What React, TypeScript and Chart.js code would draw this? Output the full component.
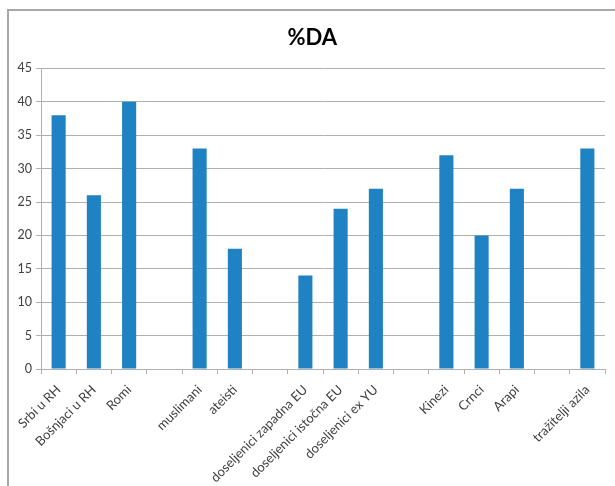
import React, { useEffect, useRef } from "react";
import { Chart, registerables } from "chart.js";

Chart.register(...registerables);

const categories: string[] = [
  "Srbi u RH",
  "Bošnjaci u RH",
  "Romi",
  "",
  "muslimani",
  "ateisti",
  "",
  "doseljenici zapadna EU",
  "doseljenici istočna EU",
  "doseljenici ex YU",
  "",
  "Kinezi",
  "Crnci",
  "Arapi",
  "",
  "tražitelji azila",
];

const daValues: (number | null)[] = [38, 26, 40, null, 33, 18, null, 14, 24, 27, null, 32, 20, 27, null, 33];

const yTicks: number[] = [0, 5, 10, 15, 20, 25, 30, 35, 40, 45];

const chartTitle = "%DA";

const FONT = "Lato, 'Open Sans', sans-serif";

export default function App() {
  const ref = useRef<HTMLCanvasElement | null>(null);

  useEffect(() => {
    if (!ref.current) return;
    const chart = new Chart(ref.current, {
      type: "bar",
      data: {
        labels: categories,
        datasets: [
          {
            label: chartTitle,
            data: daValues,
            backgroundColor: "#1f82c3",
            categoryPercentage: 1,
            barPercentage: 0.4,
          },
        ],
      },
      options: {
        animation: false,
        responsive: false,
        layout: { padding: { left: 0, right: 10, top: 0, bottom: 0 } },
        plugins: {
          legend: { display: false },
          tooltip: { enabled: false },
          title: {
            display: true,
            text: "  " + chartTitle,
            color: "#000000",
            font: { family: FONT, size: 22, weight: "bold", lineHeight: 1.2 },
            padding: { top: 14, bottom: 17 },
          },
        },
        scales: {
          x: {
            grid: {
              drawOnChartArea: false,
              drawTicks: true,
              tickLength: 5,
              color: "#b0b0b0",
              offset: true,
            },
            border: { color: "#b0b0b0" },
            ticks: {
              autoSkip: false,
              maxRotation: 45,
              minRotation: 45,
              color: "#404040",
              font: { family: FONT, size: 13 },
              padding: 8,
            },
            afterFit: (s: any) => {
              s.height = 117;
            },
          },
          y: {
            min: 0,
            max: 45,
            afterBuildTicks: (s: any) => {
              s.ticks = yTicks.map((v) => ({ value: v }));
            },
            grid: {
              color: "#b0b0b0",
              drawTicks: true,
              tickLength: 5,
            },
            border: { color: "#b0b0b0" },
            ticks: {
              color: "#404040",
              font: { family: FONT, size: 12.5 },
              padding: 4,
            },
            afterFit: (s: any) => {
              s.width = 32;
            },
          },
        },
      },
    });
    return () => chart.destroy();
  }, []);

  return (
    <div
      style={{
        position: "absolute",
        left: 7,
        top: 9,
        width: 620,
        height: 490,
        borderTop: "2px solid #a8a8a8",
        borderLeft: "2px solid #a8a8a8",
        background: "#fff",
      }}
    >
      <canvas ref={ref} width={606} height={475} style={{ display: "block" }} />
    </div>
  );
}
